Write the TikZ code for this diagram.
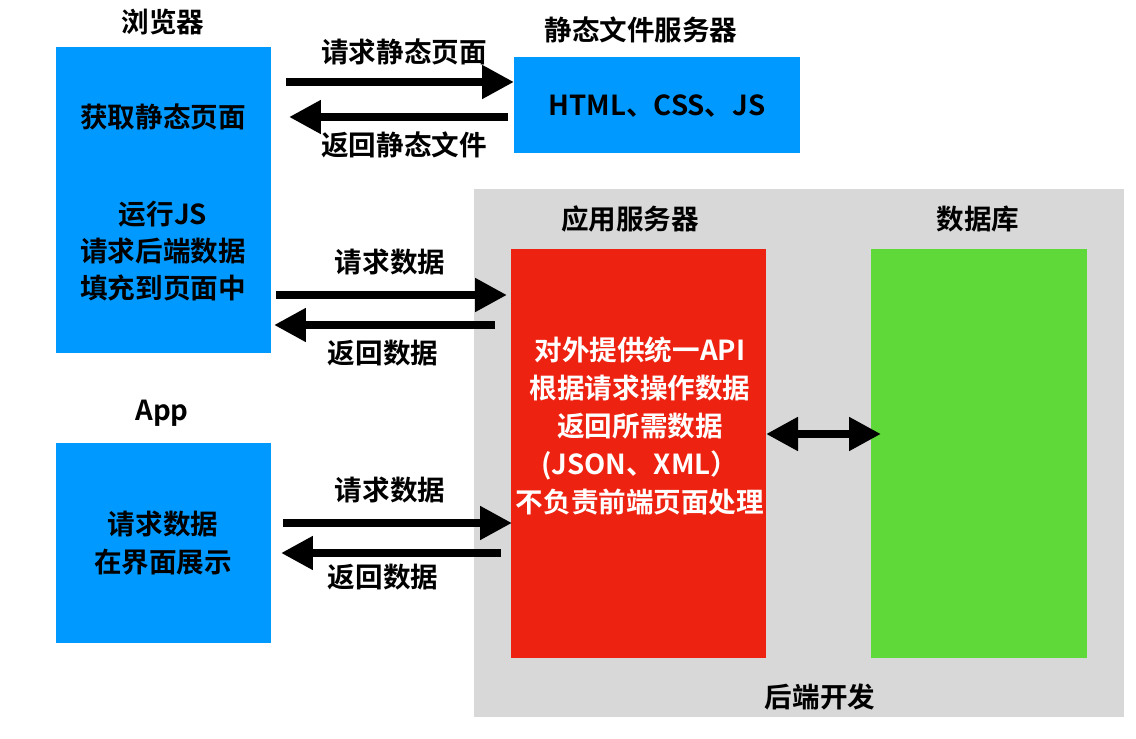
\documentclass[tikz,border=0pt]{standalone}
\usepackage{fontspec}
\setmainfont{Noto Sans CJK SC}[BoldFont={Noto Sans CJK SC Bold}]
\usetikzlibrary{arrows.meta}
\definecolor{cblue}{HTML}{0099FF}
\definecolor{cred}{HTML}{EE2211}
\definecolor{cgreen}{HTML}{5FD83A}
\definecolor{cgrey}{HTML}{D8D8D8}
\tikzset{
  box/.style={anchor=north west, inner sep=0pt, draw=none},
  txt/.style={font=\fontsize{15.7}{21.5}\selectfont\bfseries, align=center, inner sep=0pt},
  wtxt/.style={txt, text=white},
  arr/.style={line width=4.5pt, -{Triangle[length=0.64cm,width=0.64cm]}},
  darr/.style={line width=4.5pt, {Triangle[length=0.64cm,width=0.64cm]}-{Triangle[length=0.64cm,width=0.64cm]}}
}
\begin{document}
\begin{tikzpicture}[x=0.02cm,y=-0.02cm]
\useasboundingbox (0,0) rectangle (1136,739);
% boxes
\node[box, fill=cblue, minimum width=4.30cm, minimum height=6.12cm] (browser) at (56,47) {};
\node[box, fill=cblue, minimum width=5.72cm, minimum height=1.92cm] (static) at (514,57) {};
\node[box, fill=cgrey, minimum width=13.0cm, minimum height=10.56cm] (backend) at (474,189) {};
\node[box, fill=cred, minimum width=5.10cm, minimum height=8.18cm] (appsrv) at (511,249) {};
\node[box, fill=cgreen, minimum width=4.32cm, minimum height=8.18cm] (db) at (871,249) {};
\node[box, fill=cblue, minimum width=4.30cm, minimum height=4.00cm] (app) at (56,443) {};
% titles
\node[txt] (tbrowser) at (163,22) {浏览器};
\node[txt] (tstatic) at (641,30) {静态文件服务器};
\node[txt] (tappsrv) at (630,219) {应用服务器};
\node[txt] (tdb) at (978,219) {数据库};
\node[txt] (tbackend) at (820,697) {后端开发};
\node[txt] (tapp) at (162,413) {App};
% box texts
\node[txt] (b1) at (163,117) {获取静态页面};
\node[txt, font=\fontsize{15.7}{21}\selectfont\bfseries] (b2) at (163,251) {运行JS\\请求后端数据\\填充到页面中};
\node[txt] (s1) at (657,106) {HTML、CSS、JS};
\node[txt, font=\fontsize{15.7}{21.5}\selectfont\bfseries] (a1) at (163,543) {请求数据\\在界面展示};
\node[wtxt, font=\fontsize{15.7}{21.6}\selectfont\bfseries] (r1) at (640,426) {对外提供统一API\\根据请求操作数据\\返回所需数据\\(JSON、XML）\\不负责前端页面处理};
% arrow labels
\node[txt] (l1) at (404,52) {请求静态页面};
\node[txt] (l2) at (404,145) {返回静态文件};
\node[txt] (l3) at (390,262) {请求数据};
\node[txt] (l4) at (383,353) {返回数据};
\node[txt] (l5) at (390,490) {请求数据};
\node[txt] (l6) at (383,577) {返回数据};
% arrow endpoints
\coordinate (p1s) at (286,82); \coordinate (p1e) at (514,82);
\coordinate (p2s) at (508,117); \coordinate (p2e) at (289,117);
\coordinate (p3s) at (276,295); \coordinate (p3e) at (507,295);
\coordinate (p4s) at (495,325); \coordinate (p4e) at (274,325);
\coordinate (p5s) at (283,523); \coordinate (p5e) at (512,523);
\coordinate (p6s) at (501,553); \coordinate (p6e) at (281,553);
\coordinate (p7s) at (766,434); \coordinate (p7e) at (881,434);
\draw[arr] (p1s) -- (p1e);
\draw[arr] (p2s) -- (p2e);
\draw[arr] (p3s) -- (p3e);
\draw[arr] (p4s) -- (p4e);
\draw[arr] (p5s) -- (p5e);
\draw[arr] (p6s) -- (p6e);
\draw[darr] (p7s) -- (p7e);
\end{tikzpicture}
\end{document}
